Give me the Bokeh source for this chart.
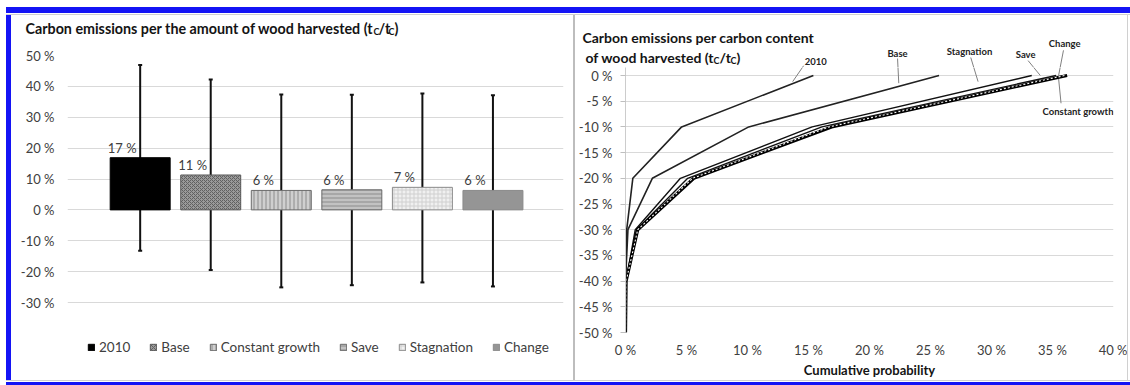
from bokeh.plotting import figure
from bokeh.models import (ColumnDataSource, Label, LabelSet, Whisker, TeeHead,
                          FixedTicker, Spacer, Range1d)
from bokeh.layouts import row, column
from bokeh.embed import file_html
from bokeh.resources import INLINE
from bokeh.core.properties import value

FONT = "Lato"

# ---------------- left chart data ----------------
scenarios = ["2010", "Base", "Constant growth", "Save", "Stagnation", "Change"]
mean_vals = [16.9, 11.3, 6.3, 6.5, 7.3, 6.3]
mean_labels = ["17 %", "11 %", "6 %", "6 %", "7 %", "6 %"]
err_upper = [46.9, 42.2, 37.4, 37.3, 37.7, 37.1]
err_lower = [-13.2, -19.5, -25.1, -24.4, -23.5, -24.8]
left_ticks = [-30, -20, -10, 0, 10, 20, 30, 40, 50]
left_tick_labels = ["-30 %", "-20 %", "-10 %", "0 %", "10 %", "20 %", "30 %", "40 %", "50 %"]

# bar styles
bar_fill = ["#000000", "#9a9a9a", "#cfcfcf", "#c2c2c2", "#f0f0f0", "#959595"]
bar_line = ["#000000", "#5a5a5a", "#6a6a6a", "#6a6a6a", "#8a8a8a", "#8a8a8a"]
bar_hatch = [" ", "x", "|", "-", "+", " "]
bar_hatch_color = ["#000000", "#606060", "#8c8c8c", "#8c8c8c", "#d0d0d0", "#959595"]

# ---------------- right chart data ----------------
emission_levels = [-50, -40, -30, -20, -10, 0]
cum_2010 = [0, 0, 0.1, 0.6, 4.6, 15.4]
cum_base = [0, 0, 0.2, 2.2, 10.1, 25.7]
cum_stagnation = [0, 0.05, 0.8, 4.5, 15.3, 33.3]
cum_save = [0, 0.05, 0.9, 5.1, 16.1, 35.3]
cum_constant = [0, 0.05, 1.0, 5.6, 16.9, 36.2]
cum_change = [0, 0.05, 1.0, 5.5, 16.7, 36.0]
right_y_ticks = [-50, -45, -40, -35, -30, -25, -20, -15, -10, -5, 0]
right_y_labels = ["-50 %", "-45 %", "-40 %", "-35 %", "-30 %", "-25 %", "-20 %",
                  "-15 %", "-10 %", "-5 %", "0 %"]
right_x_ticks = [0, 5, 10, 15, 20, 25, 30, 35, 40]
right_x_labels = ["0 %", "5 %", "10 %", "15 %", "20 %", "25 %", "30 %", "35 %", "40 %"]

# line annotations (name, x, y) in chart units, and leader lines
line_label_names = ["2010", "Base", "Stagnation", "Save", "Change"]
line_label_x = [15.6, 22.3, 28.2, 32.8, 36.0]
line_label_y = [2.7, 4.3, 4.7, 4.1, 6.2]
leader_x0 = [14.6, 22.3, 28.3, 33.0, 35.9, 35.5]
leader_y0 = [1.9, 3.3, 3.5, 2.9, 4.9, -0.6]
leader_x1 = [13.7, 22.4, 28.9, 34.0, 35.5, 35.7]
leader_y1 = [-1.2, -1.5, -1.2, 0.0, 0.0, -5.4]

TXT = "#404040"
DARK = "#141414"

# ---------------- geometry (px) ----------------
W1, W2 = 562, 552
H_IN = 365
# left
T1 = 32                    # title strip height
P1H = H_IN - T1
P1_TOP, P1_LEFT, P1_RIGHT = 8, 56, 10
FH1_DATA = 247             # px for the -30..50 span
FH1 = P1H - P1_TOP
# right
T2 = 52
P2H = H_IN - T2
P2_TOP_EXTRA, P2_LEFT, P2_RIGHT, P2_BOTTOM = 8, 50, 14, 48
FW2 = W2 - P2_LEFT - P2_RIGHT
FH2_DATA = P2H - P2_BOTTOM - P2_TOP_EXTRA
PX_X = FW2 / (right_x_ticks[-1] - right_x_ticks[0])
PX_Y = FH2_DATA / (right_y_ticks[-1] - right_y_ticks[0])

# ================= LEFT title strip =================
t1 = figure(width=W1, height=T1, output_backend="svg", toolbar_location=None,
            x_range=Range1d(0, W1), y_range=Range1d(T1, 0),
            x_axis_type=None, y_axis_type=None, min_border=0, frame_align=False)
t1.outline_line_color = None
t1.grid.visible = False
tkw = dict(text_font=FONT, text_font_style="bold", text_color=DARK, text_baseline="middle")
t1.add_layout(Label(x=362, y=13, text_align="right", text_font_size="14.3px",
                    text="Carbon emissions per the amount of wood harvested (t", **tkw))
t1.add_layout(Label(x=362, y=16, text_font_size="9px", text="C", **tkw))
t1.add_layout(Label(x=367, y=13, text_font_size="14.3px", text="/t", **tkw))
t1.add_layout(Label(x=377, y=16, text_font_size="9px", text="C", **tkw))
t1.add_layout(Label(x=383, y=13, text_font_size="14.3px", text=")", **tkw))

# ================= LEFT chart =================
y1_start = left_ticks[-1] - (left_ticks[-1] - left_ticks[0]) * FH1 / FH1_DATA
p1 = figure(width=W1, height=P1H, output_backend="svg", toolbar_location=None,
            x_range=Range1d(-1.03, 6.0), y_range=Range1d(y1_start, left_ticks[-1]),
            min_border_left=P1_LEFT, min_border_right=P1_RIGHT, min_border_top=P1_TOP,
            min_border_bottom=0, frame_align=False)
p1.outline_line_color = None
p1.xaxis.visible = False
p1.xgrid.visible = False
p1.yaxis.ticker = FixedTicker(ticks=left_ticks)
p1.yaxis.major_label_overrides = dict(zip(left_ticks, left_tick_labels))
p1.yaxis.axis_line_color = None
p1.yaxis.major_tick_line_color = None
p1.yaxis.major_tick_out = 0
p1.yaxis.minor_tick_line_color = None
p1.yaxis.major_label_standoff = 13
p1.yaxis.major_label_text_font = FONT
p1.yaxis.major_label_text_font_size = "13px"
p1.yaxis.major_label_text_color = TXT
p1.ygrid.ticker = FixedTicker(ticks=left_ticks)
p1.ygrid.grid_line_color = "#d9d9d9"

src = ColumnDataSource(dict(
    x=list(range(len(scenarios))), name=scenarios, top=mean_vals, label=mean_labels,
    upper=err_upper, lower=err_lower, fill=bar_fill, line=bar_line,
    hatch=bar_hatch, hcolor=bar_hatch_color))

p1.vbar(x="x", top="top", bottom=0, width=0.85, source=src, fill_color="fill",
        line_color="line", line_width=1, hatch_pattern="hatch", hatch_color="hcolor",
        hatch_scale=4, hatch_weight=1, legend_field="name")

p1.add_layout(Whisker(base="x", upper="upper", lower="lower", source=src,
                      line_width=2, line_color="#111111",
                      upper_head=TeeHead(size=4, line_width=2, line_color="#111111"),
                      lower_head=TeeHead(size=4, line_width=2, line_color="#111111")))
p1.add_layout(LabelSet(x="x", y="top", text="label", source=src, x_offset=-18,
                       y_offset=2, text_align="center", text_baseline="bottom",
                       text_font=value(FONT), text_font_size="13px", text_color=TXT))

lg = p1.legend[0]
lg.orientation = "horizontal"
lg.location = (20, 25)
lg.glyph_width = 8
lg.glyph_height = 8
lg.label_height = 14
lg.label_standoff = 4
lg.spacing = 19
lg.padding = 0
lg.margin = 0
lg.border_line_color = None
lg.background_fill_alpha = 0
lg.label_text_font = FONT
lg.label_text_font_size = "13.5px"
lg.label_text_color = TXT

# ================= RIGHT chart =================
y2_top = P2_TOP_EXTRA / PX_Y
p2 = figure(width=W2, height=P2H, output_backend="svg", toolbar_location=None,
            x_range=Range1d(right_x_ticks[0], right_x_ticks[-1]),
            y_range=Range1d(right_y_ticks[0], y2_top),
            min_border_left=P2_LEFT, min_border_right=P2_RIGHT, min_border_top=0,
            min_border_bottom=P2_BOTTOM, frame_align=False)
p2.outline_line_color = None
p2.xgrid.visible = False
p2.ygrid.ticker = FixedTicker(ticks=right_y_ticks)
p2.ygrid.grid_line_color = "#d9d9d9"

p2.yaxis.ticker = FixedTicker(ticks=right_y_ticks)
p2.yaxis.major_label_overrides = dict(zip(right_y_ticks, right_y_labels))
p2.yaxis.axis_line_color = "#cccccc"
p2.yaxis.major_tick_line_color = "#bfbfbf"
p2.yaxis.major_tick_out = 5
p2.yaxis.major_tick_in = 0
p2.yaxis.minor_tick_line_color = None
p2.yaxis.major_label_standoff = 8
p2.yaxis.major_label_text_font = FONT
p2.yaxis.major_label_text_font_size = "13px"
p2.yaxis.major_label_text_color = TXT

p2.xaxis.ticker = FixedTicker(ticks=right_x_ticks)
p2.xaxis.major_label_overrides = dict(zip(right_x_ticks, right_x_labels))
p2.xaxis.axis_line_color = None
p2.xaxis.major_tick_line_color = None
p2.xaxis.major_tick_out = 0
p2.xaxis.major_tick_in = 0
p2.xaxis.minor_tick_line_color = None
p2.xaxis.major_label_standoff = 9
p2.xaxis.major_label_text_font = FONT
p2.xaxis.major_label_text_font_size = "13px"
p2.xaxis.major_label_text_color = TXT
p2.xaxis.axis_label = "Cumulative probability"
p2.xaxis.axis_label_text_font = FONT
p2.xaxis.axis_label_text_font_style = "bold"
p2.xaxis.axis_label_text_font_size = "13px"
p2.xaxis.axis_label_text_color = DARK
p2.xaxis.axis_label_standoff = 1

# ================= RIGHT annotation strip (same data units) =================
x_strip0 = right_x_ticks[0] - P2_LEFT / PX_X
t2 = figure(width=W2, height=T2, output_backend="svg", toolbar_location=None,
            x_range=Range1d(x_strip0, x_strip0 + W2 / PX_X),
            y_range=Range1d(y2_top, y2_top + T2 / PX_Y),
            x_axis_type=None, y_axis_type=None, min_border=0, frame_align=False)
t2.outline_line_color = None
t2.grid.visible = False

for fig in (p2, t2):
    fig.segment(x0=leader_x0, y0=leader_y0, x1=leader_x1, y1=leader_y1,
                line_color="#808080", line_width=1)

p2.line(cum_stagnation, emission_levels, line_color="#111111", line_width=1.4)
p2.line(cum_save, emission_levels, line_color="#111111", line_width=1.4)
p2.line(cum_constant, emission_levels, line_color="#000000", line_width=3.2)
p2.line(cum_change, emission_levels, line_color="white", line_width=1.1, line_dash="2 2")
p2.line(cum_2010, emission_levels, line_color="#222222", line_width=1.6)
p2.line(cum_base, emission_levels, line_color="#222222", line_width=1.6)

lkw = dict(text_font=FONT, text_font_style="bold", text_color="#222222",
           text_font_size="9.5px", text_baseline="middle")
for t, lx, ly in zip(line_label_names, line_label_x, line_label_y):
    t2.add_layout(Label(x=lx, y=ly, text=t, text_align="center", **lkw))
p2.add_layout(Label(x=right_x_ticks[-1], y=-7.0, text="Constant growth",
                    text_align="right", **lkw))

rkw = dict(text_font=FONT, text_font_style="bold", text_color=DARK,
           text_baseline="middle")
# title lines: positions as px offsets from the strip's bottom-left corner
t2.add_layout(Label(x=x_strip0, y=y2_top, x_offset=7, y_offset=30, text_font_size="14px",
                    text="Carbon emissions per carbon content", **rkw))
t2.add_layout(Label(x=x_strip0, y=y2_top, x_offset=142, y_offset=10, text_align="right",
                    text_font_size="14px", text="of wood harvested  (t", **rkw))
t2.add_layout(Label(x=x_strip0, y=y2_top, x_offset=138, y_offset=7, text_font_size="9px",
                    text="C", **rkw))
t2.add_layout(Label(x=x_strip0, y=y2_top, x_offset=144, y_offset=10, text_font_size="14px",
                    text="/t", **rkw))
t2.add_layout(Label(x=x_strip0, y=y2_top, x_offset=155, y_offset=7, text_font_size="9px",
                    text="C", **rkw))
t2.add_layout(Label(x=x_strip0, y=y2_top, x_offset=161, y_offset=10, text_font_size="14px",
                    text=")", **rkw))

# ================= frame / layout =================
BLUE = "#1414f5"
GRAY = "#bdbdbd"
LIGHT = "#d0d0d0"
INNER_W = 5 + W1 + 2 + W2 + 1 + 2
inner = column(
    Spacer(width=INNER_W, height=6, styles={"background-color": BLUE}),
    Spacer(width=INNER_W, height=1),
    Spacer(width=INNER_W, height=1, styles={"background-color": LIGHT}),
    row(Spacer(width=5, height=H_IN, styles={"background-color": BLUE}),
        column(t1, p1),
        Spacer(width=2, height=H_IN, styles={"background-color": GRAY}),
        column(t2, p2),
        Spacer(width=1, height=H_IN, styles={"background-color": LIGHT}),
        Spacer(width=2, height=H_IN)),
    Spacer(width=INNER_W, height=1, styles={"background-color": LIGHT}),
    Spacer(width=INNER_W, height=1),
    Spacer(width=INNER_W, height=3, styles={"background-color": BLUE}),
)
layout = column(Spacer(width=INNER_W + 6, height=7),
                row(Spacer(width=6, height=378), inner))

open("out.html", "w").write(file_html(layout, INLINE))
